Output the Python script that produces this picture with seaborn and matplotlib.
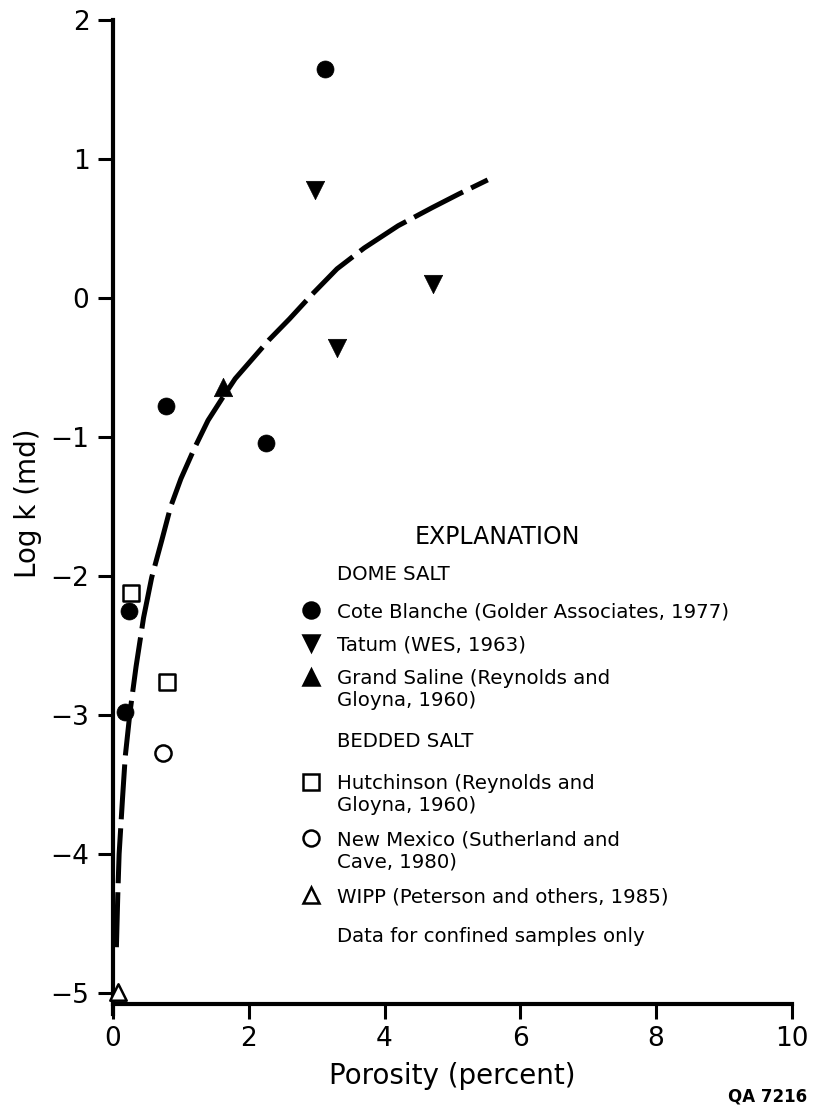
import matplotlib
matplotlib.use("Agg")
import matplotlib.pyplot as plt
import seaborn as sns

sns.set_theme(style="ticks")
plt.rcParams['font.family'] = ['DejaVu Sans']
plt.rcParams['text.color'] = 'black'
plt.rcParams['axes.labelcolor'] = 'black'
plt.rcParams['axes.edgecolor'] = 'black'

# --- data ---
# dome salt
cote_x = [3.12, 0.78, 2.25, 0.24, 0.18]
cote_y = [1.65, -0.78, -1.04, -2.25, -2.98]
tatum_x = [2.97, 4.71, 3.30]
tatum_y = [0.78, 0.10, -0.36]
grand_x = [1.62]
grand_y = [-0.64]
# bedded salt
hutch_x = [0.27, 0.80]
hutch_y = [-2.12, -2.76]
nmex_x = [0.74]
nmex_y = [-3.27]
wipp_x = [0.07]
wipp_y = [-4.99]

# hand-drawn trend curve
curve_x = [0.05, 0.07, 0.09, 0.14, 0.18, 0.25, 0.34, 0.45, 0.57, 0.72, 0.85,
           1.0, 1.2, 1.4, 1.61, 1.8, 2.05, 2.3, 2.6, 2.92, 3.3, 3.7, 4.2,
           4.7, 5.1, 5.52]
curve_y = [-4.67, -4.3, -4.0, -3.6, -3.3, -2.98, -2.65, -2.3, -2.01, -1.74,
           -1.50, -1.30, -1.08, -0.88, -0.72, -0.58, -0.44, -0.30, -0.15,
           0.02, 0.21, 0.36, 0.52, 0.65, 0.75, 0.85]

x_ticks = [0, 2, 4, 6, 8, 10]
x_tick_labels = ["0", "2", "4", "6", "8", "10"]
y_ticks = [-5, -4, -3, -2, -1, 0, 1, 2]
y_tick_labels = ["\u22125", "\u22124", "\u22123", "\u22122", "\u22121", "0", "1", "2"]

series = [
    # x, y, marker, filled, size
    (cote_x, cote_y, "o", True, 150),
    (tatum_x, tatum_y, "v", True, 175),
    (grand_x, grand_y, "^", True, 175),
    (hutch_x, hutch_y, "s", False, 130),
    (nmex_x, nmex_y, "o", False, 135),
    (wipp_x, wipp_y, "^", False, 140),
]

fig = plt.figure(figsize=(8.13, 11.19), dpi=100)
ax = fig.add_axes([0.139, 0.0939, 0.835, 0.8882])

# trend line
sns.lineplot(x=curve_x, y=curve_y, sort=False, estimator=None, ax=ax,
             color="black", lw=3.6, linestyle=(0, (11, 1.8)),
             solid_capstyle="butt", dash_capstyle="butt")

for xs, ys, m, filled, s in series:
    if filled:
        sns.scatterplot(x=xs, y=ys, ax=ax, marker=m, s=s, color="black",
                        edgecolor="black", linewidth=0.5, clip_on=False, zorder=3)
    else:
        sns.scatterplot(x=xs, y=ys, ax=ax, marker=m, s=s, color="black",
                        facecolor="white", edgecolor="black", linewidth=1.8,
                        clip_on=False, zorder=3)

ax.set_xlim(0, 10)
ax.set_ylim(-5.15, 2)
ax.spines["top"].set_visible(False)
ax.spines["right"].set_visible(False)
ax.spines["bottom"].set_position(("data", -5.08))
for sp in ("left", "bottom"):
    ax.spines[sp].set_linewidth(3)
    ax.spines[sp].set_color("black")
ax.set_xticks(x_ticks)
ax.set_xticklabels(x_tick_labels)
ax.set_yticks(y_ticks)
ax.set_yticklabels(y_tick_labels)
ax.tick_params(axis="both", direction="out", length=11, width=2.2,
               labelsize=19, color="black", labelcolor="black")
ax.tick_params(axis="y", pad=6)
ax.tick_params(axis="x", pad=5)

ax.set_xlabel("Porosity (percent)", fontsize=20)
ax.set_ylabel("Log k (md)", fontsize=20)
ax.xaxis.set_label_coords(0.5, -0.048)
ax.yaxis.set_label_coords(-0.105, 0.514)

# --- explanation block (axes fraction coords) ---
tx, mx = 0.330, 0.2916
fs = 14.2
off = 0.0072     # half cap height, to put the baseline under the line centre
lstep = 0.0221   # second-line step
ax.text(0.5655, 0.4799, "EXPLANATION", transform=ax.transAxes,
        ha="center", va="center", fontsize=17)
rows = [
    (0.4437, None, ["DOME SALT"]),
    (0.4064, ("o", True), ["Cote Blanche (Golder Associates, 1977)"]),
    (0.3732, ("v", True), ["Tatum (WES, 1963)"]),
    (0.3390, ("^", True), ["Grand Saline (Reynolds and", "Gloyna, 1960)"]),
    (0.2757, None, ["BEDDED SALT"]),
    (0.2334, ("s", False), ["Hutchinson (Reynolds and", "Gloyna, 1960)"]),
    (0.1771, ("o", False), ["New Mexico (Sutherland and", "Cave, 1980)"]),
    (0.1197, ("^", False), ["WIPP (Peterson and others, 1985)"]),
    (0.0795, None, ["Data for confined samples only"]),
]
for yy, mk, lines in rows:
    for i, line in enumerate(lines):
        ax.text(tx, yy - off - i * lstep, line, transform=ax.transAxes,
                ha="left", va="baseline", fontsize=fs)
    if mk is not None:
        m, filled = mk
        ax.plot([mx], [yy], transform=ax.transAxes, marker=m, ls="none",
                markersize=11.5, markeredgewidth=1.8, markeredgecolor="black",
                markerfacecolor="black" if filled else "white", clip_on=False)

fig.text(0.993, 1 - 1097 / 1119, "QA 7216", ha="right", va="center",
         fontsize=12, fontweight="bold")

fig.savefig("out.png", dpi=100, facecolor="white")
